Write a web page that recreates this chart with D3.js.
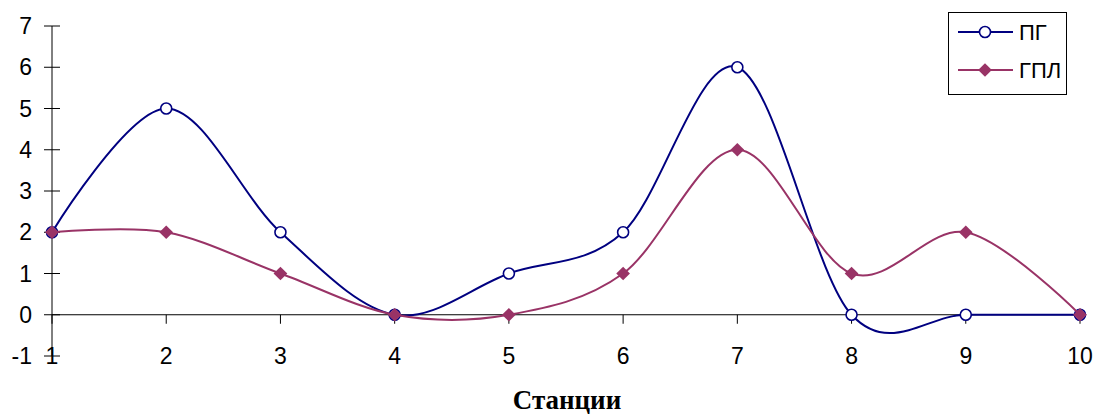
<!DOCTYPE html>
<html>
<head>
<meta charset="utf-8">
<script src="https://cdn.jsdelivr.net/npm/d3@7.9.0/dist/d3.min.js"></script>
<style>
  body { margin: 0; background: #fff; }
  svg { display: block; }
  text { font-family: "Liberation Sans", Arial, sans-serif; fill: #000; }
</style>
</head>
<body>
<svg id="chart" width="1097" height="417"></svg>
<script>
// Station numbers along the x axis
const stations = [1, 2, 3, 4, 5, 6, 7, 8, 9, 10];
// Series values
const pg = [2, 5, 2, 0, 1, 2, 6, 0, 0, 0];
const gpl = [2, 2, 1, 0, 0, 1, 4, 1, 2, 0];
const yTicks = [-1, 0, 1, 2, 3, 4, 5, 6, 7];

const series = [
  { name: 'ПГ', values: pg, color: '#000080', marker: 'circle' },
  { name: 'ГПЛ', values: gpl, color: '#993366', marker: 'diamond' }
];

const svg = d3.select('#chart');

// Scales
const x = d3.scaleLinear().domain([1, 10]).range([52, 1080]);
const y = d3.scaleLinear().domain([-1, 7]).range([356, 26]);

// Y axis line with ticks crossing both sides
const yAxis = svg.append('g');
yAxis.append('line')
  .attr('x1', x(1)).attr('x2', x(1))
  .attr('y1', y(7)).attr('y2', y(-1))
  .attr('stroke', '#000').attr('stroke-width', 1);
yTicks.forEach(t => {
  yAxis.append('line')
    .attr('x1', x(1) - 8).attr('x2', x(1) + 8)
    .attr('y1', y(t)).attr('y2', y(t))
    .attr('stroke', '#000');
  yAxis.append('text')
    .attr('x', 32).attr('y', y(t) + 8)
    .attr('text-anchor', 'end')
    .attr('font-size', 23)
    .text(t);
});

// X axis at y = 0, ticks downward
const xAxis = svg.append('g');
xAxis.append('line')
  .attr('x1', x(1)).attr('x2', x(10))
  .attr('y1', y(0)).attr('y2', y(0))
  .attr('stroke', '#000');
stations.forEach(s => {
  xAxis.append('line')
    .attr('x1', x(s)).attr('x2', x(s))
    .attr('y1', y(0)).attr('y2', y(0) + 9)
    .attr('stroke', '#000');
  xAxis.append('text')
    .attr('x', x(s)).attr('y', 364)
    .attr('text-anchor', 'middle')
    .attr('font-size', 23)
    .text(s);
});

// Axis title
svg.append('text')
  .attr('x', 567).attr('y', 409)
  .attr('text-anchor', 'middle')
  .style('font-family', '"Liberation Serif", "Times New Roman", serif')
  .style('font-weight', 'bold')
  .style('font-size', '27px')
  .text('Станции');

// Smoothed lines, like Excel's smoothing
const line = d3.line()
  .x((d, i) => x(stations[i]))
  .y(d => y(d))
  .curve(d3.curveCatmullRom.alpha(0));

const diamond = d3.symbol().type(d3.symbolDiamond2).size(120);

function drawMarker(g, m, cx, cy, color) {
  if (m === 'circle') {
    g.append('circle')
      .attr('cx', cx).attr('cy', cy).attr('r', 5.5)
      .attr('fill', '#fff').attr('stroke', color).attr('stroke-width', 1.6);
  } else {
    g.append('path')
      .attr('d', diamond())
      .attr('transform', `translate(${cx},${cy})`)
      .attr('fill', color);
  }
}

series.forEach(s => {
  const g = svg.append('g');
  g.append('path')
    .attr('d', line(s.values))
    .attr('fill', 'none')
    .attr('stroke', s.color)
    .attr('stroke-width', 2);
  s.values.forEach((v, i) => drawMarker(g, s.marker, x(stations[i]), y(v), s.color));
});

// Legend
const legend = svg.append('g');
legend.append('rect')
  .attr('x', 948.5).attr('y', 12.5)
  .attr('width', 118).attr('height', 82)
  .attr('fill', '#fff').attr('stroke', '#000');
series.forEach((s, i) => {
  const ly = 32 + i * 38;
  legend.append('line')
    .attr('x1', 958).attr('x2', 1013)
    .attr('y1', ly).attr('y2', ly)
    .attr('stroke', s.color).attr('stroke-width', 2);
  drawMarker(legend, s.marker, 985, ly, s.color);
  legend.append('text')
    .attr('x', 1019).attr('y', ly + 8)
    .attr('font-size', 22)
    .text(s.name);
});
</script>
</body>
</html>
